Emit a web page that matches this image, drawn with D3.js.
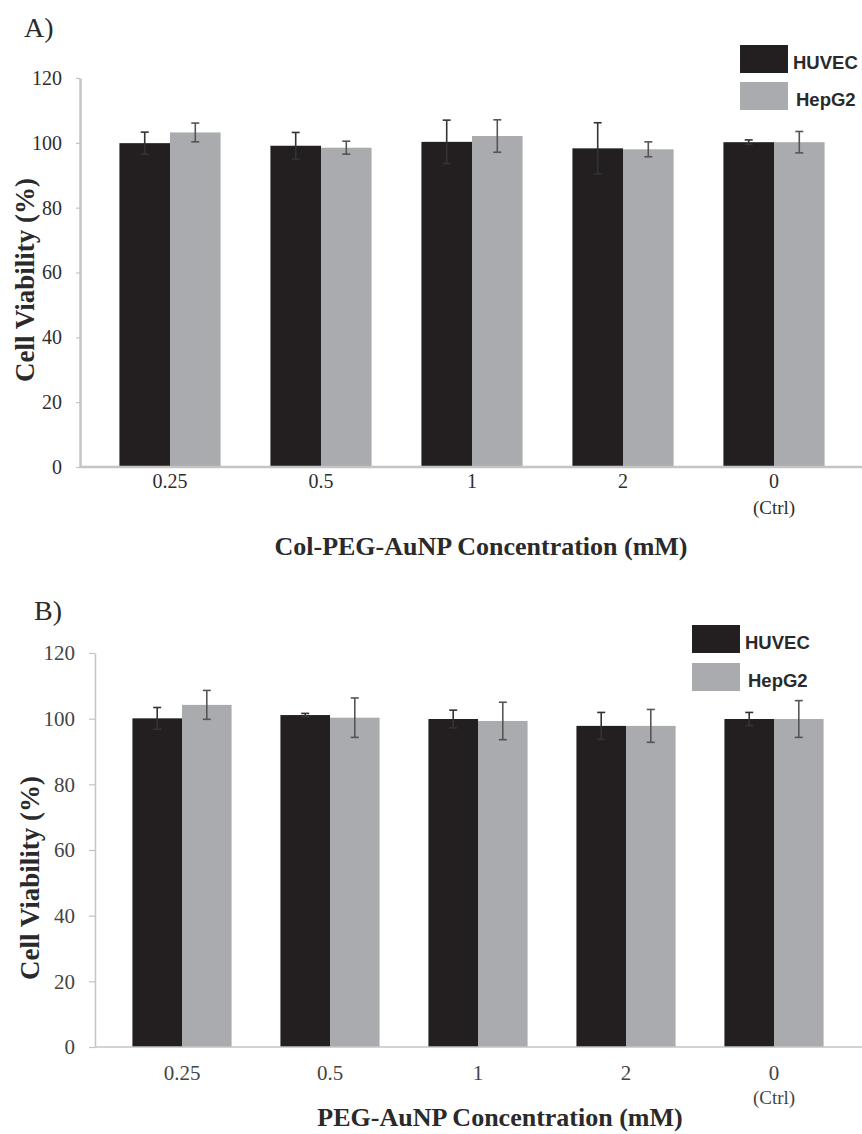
<!DOCTYPE html>
<html>
<head>
<meta charset="utf-8">
<script src="https://cdn.jsdelivr.net/npm/d3@7"></script>
<style>
  body { margin: 0; background: #fff; }
  svg { display: block; }
</style>
</head>
<body>
<svg id="svg" width="862" height="1134"></svg>
<script>
// data
var categories = ["0.25", "0.5", "1", "2", "0"];
var series = ["HUVEC", "HepG2"];
var yTicks = [0, 20, 40, 60, 80, 100, 120];

var huvecA = [99.9, 99.1, 100.3, 98.3, 100.2];
var huvecErrA = [3.4, 4.1, 6.7, 7.9, 0.7];
var hepg2A = [103.2, 98.5, 102.1, 98.0, 100.2];
var hepg2ErrA = [2.9, 2.0, 5.0, 2.3, 3.3];

var huvecB = [100.1, 101.1, 99.9, 97.8, 99.9];
var huvecErrB = [3.3, 0.5, 2.7, 4.1, 2.0];
var hepg2B = [104.2, 100.3, 99.3, 97.8, 99.9];
var hepg2ErrB = [4.4, 6.0, 5.7, 5.0, 5.6];

var colors = {"HUVEC": "#231f20", "HepG2": "#a9abae"};

var svg = d3.select("#svg");

function drawPanel(p) {
    var g = svg.append("g");

    var x = d3.scaleBand().domain(categories).range(p.xRange)
        .paddingInner(0.33).paddingOuter(0.165);
    var xs = d3.scaleBand().domain(series).range([0, x.bandwidth()]);
    var y = d3.scaleLinear().domain([0, 120]).range(p.yRange);

    var rows = categories.map(function(c, i) {
        return [
            {cat: c, s: "HUVEC", v: p.huvec[i], e: p.huvecErr[i]},
            {cat: c, s: "HepG2", v: p.hepg2[i], e: p.hepg2Err[i]}
        ];
    });
    var flat = [].concat.apply([], rows);

    // bars
    g.selectAll("rect.bar").data(flat).enter().append("rect")
        .attr("class", "bar")
        .attr("x", function(d) { return x(d.cat) + xs(d.s); })
        .attr("y", function(d) { return y(d.v); })
        .attr("width", xs.bandwidth())
        .attr("height", function(d) { return y(0) - y(d.v); })
        .attr("fill", function(d) { return colors[d.s]; });

    // error bars
    var eb = g.selectAll("g.err").data(flat).enter().append("g")
        .attr("class", "err")
        .attr("stroke", function(d) { return d.s == "HUVEC" ? "#333" : "#555"; })
        .attr("stroke-width", 1.6);
    eb.append("line")
        .attr("x1", function(d) { return x(d.cat) + xs(d.s) + xs.bandwidth() / 2; })
        .attr("x2", function(d) { return x(d.cat) + xs(d.s) + xs.bandwidth() / 2; })
        .attr("y1", function(d) { return y(d.v + d.e); })
        .attr("y2", function(d) { return y(d.v - d.e); });
    [1, -1].forEach(function(sign) {
        eb.append("line")
            .attr("x1", function(d) { return x(d.cat) + xs(d.s) + xs.bandwidth() / 2 - 4; })
            .attr("x2", function(d) { return x(d.cat) + xs(d.s) + xs.bandwidth() / 2 + 4; })
            .attr("y1", function(d) { return y(d.v + sign * d.e); })
            .attr("y2", function(d) { return y(d.v + sign * d.e); });
    });

    // y axis
    var yAxis = g.append("g")
        .attr("transform", "translate(" + p.axisX + ",0)")
        .call(d3.axisLeft(y).tickValues(yTicks).tickSize(p.tickSize).tickPadding(p.tickPad).tickSizeOuter(0));
    yAxis.select(".domain").attr("stroke", "#c4c4c4").attr("stroke-width", p.axisW);
    yAxis.selectAll(".tick line").attr("stroke", "#c4c4c4").attr("stroke-width", 1.2);
    yAxis.selectAll(".tick text")
        .style("font-family", "'Liberation Serif', 'Times New Roman', serif")
        .style("font-size", p.tickFont + "px")
        .style("font-weight", p.tickWeight)
        .attr("fill", p.tickColor);

    // x axis line
    g.append("line")
        .attr("x1", p.axisX).attr("x2", 862)
        .attr("y1", y(0)).attr("y2", y(0))
        .attr("stroke", "#c4c4c4").attr("stroke-width", p.axisW);

    // x tick labels
    g.selectAll("text.xl").data(categories).enter().append("text")
        .attr("class", "xl")
        .attr("x", function(d) { return x(d) + x.bandwidth() / 2; })
        .attr("y", p.xLabelY)
        .attr("text-anchor", "middle")
        .style("font-family", "'Liberation Serif', 'Times New Roman', serif")
        .style("font-size", p.tickFont + "px")
        .style("font-weight", p.tickWeight)
        .attr("fill", p.tickColor)
        .text(function(d) { return d; });
    g.append("text")
        .attr("x", x("0") + x.bandwidth() / 2)
        .attr("y", p.ctrlY)
        .attr("text-anchor", "middle")
        .style("font-family", "'Liberation Serif', 'Times New Roman', serif")
        .style("font-size", "19px")
        .attr("fill", p.tickColor)
        .text("(Ctrl)");

    // axis titles
    g.append("text")
        .attr("x", p.xTitleX).attr("y", p.xTitleY)
        .attr("text-anchor", "middle")
        .style("font-family", "'Liberation Serif', 'Times New Roman', serif")
        .style("font-size", "26px")
        .style("font-weight", "bold")
        .attr("fill", "#2a2a2a")
        .text(p.xTitle);
    g.append("text")
        .attr("transform", "translate(" + p.yTitleX + "," + p.yTitleY + ") rotate(-90)")
        .attr("text-anchor", "middle")
        .style("font-family", "'Liberation Serif', 'Times New Roman', serif")
        .style("font-size", "27px")
        .style("font-weight", "bold")
        .attr("fill", "#2a2a2a")
        .text("Cell Viability (%)");

    // panel letter
    g.append("text")
        .attr("x", p.letterX).attr("y", p.letterY)
        .style("font-family", "'Liberation Serif', 'Times New Roman', serif")
        .style("font-size", "28px")
        .attr("fill", "#2a2a2a")
        .text(p.letter);

    // legend
    series.forEach(function(s, i) {
        g.append("rect")
            .attr("x", p.legX).attr("y", p.legY + i * p.legStep)
            .attr("width", 48).attr("height", 28)
            .attr("fill", colors[s]);
        g.append("text")
            .attr("x", p.legX + 53 + i * 3).attr("y", p.legY + i * p.legStep + 24)
            .style("font-family", "'Liberation Sans', Arial, sans-serif")
            .style("font-size", "18.5px")
            .style("font-weight", "bold")
            .attr("fill", "#2a2a2a")
            .text(s);
    });
}

drawPanel({
    huvec: huvecA, huvecErr: huvecErrA, hepg2: hepg2A, hepg2Err: hepg2ErrA,
    xRange: [94.5, 849.5], yRange: [467, 78], axisX: 80, axisW: 2.5,
    tickSize: 4, tickPad: 14, tickFont: 20, tickWeight: "normal", tickColor: "#2e2e2e",
    xLabelY: 488, ctrlY: 514,
    xTitle: "Col-PEG-AuNP Concentration (mM)", xTitleX: 481, xTitleY: 555,
    yTitleX: 34, yTitleY: 280,
    letter: "A)", letterX: 24, letterY: 37,
    legX: 740, legY: 45, legStep: 37
});

drawPanel({
    huvec: huvecB, huvecErr: huvecErrB, hepg2: hepg2B, hepg2Err: hepg2ErrB,
    xRange: [108, 848], yRange: [1047, 653], axisX: 95, axisW: 1.5,
    tickSize: 6, tickPad: 14, tickFont: 21, tickWeight: "normal", tickColor: "#444",
    xLabelY: 1080, ctrlY: 1104,
    xTitle: "PEG-AuNP Concentration (mM)", xTitleX: 500, xTitleY: 1126,
    yTitleX: 39, yTitleY: 878,
    letter: "B)", letterX: 34, letterY: 620,
    legX: 692, legY: 625, legStep: 38
});
</script>
</body>
</html>
